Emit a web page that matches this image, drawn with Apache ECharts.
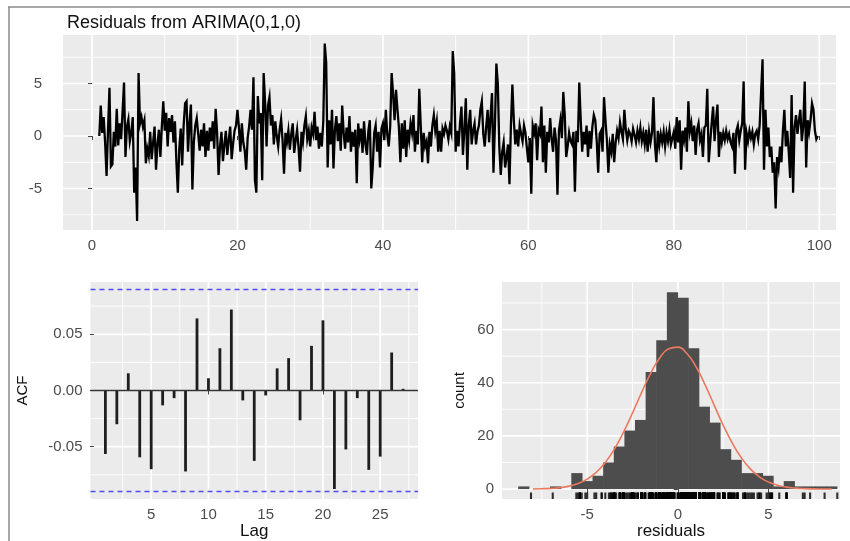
<!DOCTYPE html>
<html><head><meta charset="utf-8">
<script src="https://cdn.jsdelivr.net/npm/echarts@6/dist/echarts.min.js"></script>
<style>html,body{margin:0;padding:0;background:#fff}#c{width:850px;height:541px}</style>
</head><body><div id="c"></div>
<script>
// ---- data ----
const chartTitle = 'Residuals from ARIMA(0,1,0)';
const residStart = 1;      // first time index
const residFreq = 5;       // observations per time unit
const residuals = [
 0.0, 2.9, 0.3, 1.8, -0.6,   -3.8, 0.6, 4.6, -2.9, -2.7,   0.4, -1.0, 2.6, -0.9, 1.2,
 -0.3, 2.3, 5.1, -2.0, 0.9,  1.6, -0.5, 0.3, 1.8, -5.4,    -3.0, -8.1, 6.0, 1.2, 1.8,
 0.9, 1.5, -2.6, -1.2, -1.9, 0.4, -2.2, -0.6, 0.9, -3.2,   -0.8, 0.6, -2.0, 0.9, 3.3,
 0.5, 2.2, -1.0, 1.7, 0.4,   2.0, -0.6, 1.4, -2.4, -5.4,   -1.2, 0.7, -2.8, 1.0, 3.1,
 3.3, -1.5, 1.2, 3.0, -5.1,  -0.6, 1.0, 1.7, 0.2, -1.4,    0.6, -1.0, 1.2, -2.0, 0.5,
 -1.4, 0.8, -0.5, 1.4, -1.2, 2.6, 0.3, -3.7, -1.0, 0.4,    -2.4, -0.9, 0.5, -1.8, -0.4,
 0.9, -2.2, -0.7, 0.5, 1.0,  2.5, 0.8, -1.5, 1.2, -0.6,    -1.4, -3.2, -0.2, 0.9, 2.5,
 0.6, 5.6, -4.2, -5.4, 3.8,  1.2, 2.2, -4.2, 6.0, 3.2,     -1.0, 2.9, 3.7, 1.0, 2.0,
 -0.8, 1.4, 0.0, -1.0, 0.6,  1.6, -0.4, -3.6, 0.3, -0.6,   0.5, -1.3, 0.2, 1.2, -1.6,
 -0.4, 0.6, -1.1, -3.4, 0.4, -0.6, 1.0, 1.9, -0.3, 0.5,    -1.0, 0.8, 0.2, 2.3, -0.4,
 0.9, -1.2, 0.3, -1.0, 1.4,  8.8, 7.0, -3.0, 1.5, -0.8,    2.5, -3.1, 0.6, 1.9, -0.5,
 1.2, -1.4, 2.9, 0.3, -1.2,  0.8, -0.6, 1.9, -1.5, 0.4,    -1.0, 0.6, -4.5, 1.2, -0.3,
 0.7, -1.6, 1.4, -0.8, -1.8, 0.5, 1.5, -5.0, -3.0, 0.3,    1.0, -1.5, 0.4, -3.0, 0.7,
 1.2, -0.4, 2.5, 0.1, -1.0,  0.9, 6.0, 4.0, 1.5, 4.4,      2.5, 0.8, -2.5, 1.2, -1.2,
 1.5, -2.0, 0.6, -0.4, 1.2,  0.3, 2.0, -1.5, 0.5, -0.8,    4.5, 1.0, -2.5, 0.3, -1.0,
 -0.5, -2.6, 0.4, -1.0, 1.0, 2.0, 0.5, 1.4, -1.5, 0.5,     -1.5, 0.7, 0.2, 1.0, 0.5,
 -0.3, 0.9, 0.3, 8.1, 6.0,   -1.5, 0.5, -1.0, 1.2, 2.8,    -1.8, 0.6, 3.6, -3.2, 1.0,
 2.5, -0.8, 0.5, 1.2, -0.8,  0.4, 1.0, 2.5, 3.3, 0.2,      -1.0, 0.9, 2.5, -0.6, 1.9,
 4.1, -3.5, 1.0, 6.9, 5.0,   -1.0, -3.7, -1.5, -0.6, -3.0, -2.0, -0.8, -4.6, 1.0, 4.9,
 1.5, -0.8, 0.6, -1.0, 1.0,  0.2, -0.5, 1.0, 0.3, -1.2,    -2.5, -0.2, -5.5, 1.0, 0.3,
 1.2, -2.3, 0.6, 0.2, 2.8,   -2.5, 1.0, -3.5, 0.4, -0.6,   1.7, -0.3, -1.5, 0.8, -0.4,
 -5.6, 0.5, 1.5, -0.2, 4.2,  2.0, -2.0, -1.0, 0.3, -0.5,   -0.8, 0.4, -5.3, 0.5, -0.6,
 5.1, 1.5, -1.5, 0.4, -0.8,  1.0, -2.0, 0.5, -1.2, 0.9,    2.0, 1.5, -0.5, -3.5, 0.2,
 0.5, -1.5, 3.7, 1.5, -0.4,  -3.5, -0.8, -1.5, 0.2, -2.5,  -0.6, 0.5, -0.2, 1.3, 0.4,
 -0.3, 2.5, 0.6, -0.4, 0.5,  0.2, -0.5, 0.7, 0.1, -0.6,    0.5, -0.3, 0.8, -0.5, 0.3,
 -0.8, 0.6, -1.5, 0.4, -0.6, 0.3, 3.7, -0.8, -2.5, 0.5,    -0.9, 0.2, -0.6, 0.4, -1.0,
 0.3, -0.5, 0.6, -0.8, -0.2, 0.4, -1.2, 1.8, -0.6, 1.5,    -3.2, 0.5, -0.4, 0.8, -1.5,
 3.3, 0.4, 1.2, -0.5, 1.0,   -1.8, 0.6, 1.2, -0.4, 0.2,    -2.0, 0.8, 1.0, 4.5, -2.5,
 -2.5, 1.2, 2.8, -0.5, 1.5,  3.0, -2.0, 0.4, -0.6, 0.3,    -0.4, 0.5, -0.3, 0.2, -0.6,
 -1.0, 0.3, -3.6, 0.5, 1.0,  -0.4, 0.5, 1.2, 5.2, -3.2,    0.3, -0.5, 0.5, -0.2, 0.4,
 -0.8, 0.2, 0.5, -0.3, 1.0,  1.0, 7.3, -3.2, 2.5, -1.0,    0.8, -2.0, -1.0, -3.5, -2.5,
 -6.9, -2.0, -3.0, -1.0, -2.5, 0.5, 2.5, -1.0, 0.5, -1.5,  -4.0, 3.9, -5.4, 0.8, 2.0,
 0.2, 1.5, 2.5, -0.5, 1.0,   5.2, -3.0, 1.5, 0.4, 1.5,     3.1, 2.5, 0.5, -0.3, 0.0
];
const topXTicks = [0, 20, 40, 60, 80, 100];
const topXMinor = [10, 30, 50, 70, 90];
const topYTicks = [-5, 0, 5];
const topYMinor = [-7.5, -2.5, 2.5, 7.5];

const acfLags = [1,2,3,4,5,6,7,8,9,10,11,12,13,14,15,16,17,18,19,20,21,22,23,24,25,26,27];
const acfValues = [-0.0565,-0.030,0.0153,-0.0594,-0.070,-0.0132,-0.0068,-0.072,0.0641,0.0109,
  0.0376,0.072,-0.0088,-0.0626,-0.0044,0.0197,0.0288,-0.0265,0.0397,0.0624,
  -0.0876,-0.0524,-0.0068,-0.0706,-0.0588,0.0338,0.0015];
const acfCI = 0.0877;
const acfXTicks = [5, 10, 15, 20, 25];
const acfXMinor = [2.5, 7.5, 12.5, 17.5, 22.5, 27.5];
const acfYTicks = [-0.05, 0, 0.05];
const acfYMinor = [-0.075, -0.025, 0.025, 0.075];

const histBinStart = -8.79;
const histBinWidth = 0.586;
const histCounts = [1,0,0,1,0,6,3,5,10,16,22,26,44,56,74,72,53,31,25,15,11,6,6,5,1,3,1,1,1,1];
const normalX = [-8,-7.5,-7,-6.5,-6,-5.5,-5,-4.5,-4,-3.5,-3,-2.5,-2,-1.5,-1,-0.5,0,0.5,1,1.5,2,2.5,3,3.5,4,4.5,5,5.5,6,6.5,7,7.5,8,8.5];
const normalY = [0.05,0.12,0.26,0.55,1.1,2.09,3.72,6.26,10.0,15.0,21.3,28.6,36.3,43.5,49.3,52.8,53.4,51.0,46.1,39.3,31.7,24.1,17.4,11.8,7.59,4.61,2.64,1.43,0.73,0.35,0.16,0.07,0.03,0.01];
const histXTicks = [-5, 0, 5];
const histXMinor = [-7.5, -2.5, 2.5, 7.5];
const histYTicks = [0, 20, 40, 60];
const histYMinor = [10, 30, 50, 70];

// ---- styling ----
const FONT = '"Liberation Sans", Arial, Helvetica, sans-serif';
const tickColor = '#444444';
const labelColor = '#4d4d4d';

function gridLines(xi, xMajor, xMinor, yMajor, yMinor) {
  const data = [];
  xMinor.forEach(v => data.push([v, 0, 0]));
  yMinor.forEach(v => data.push([v, 0, 1]));
  xMajor.forEach(v => data.push([v, 1, 0]));
  yMajor.forEach(v => data.push([v, 1, 1]));
  return {
    type: 'custom', xAxisIndex: xi, yAxisIndex: xi, silent: true, z: 0, clip: true,
    data: data,
    renderItem: function (params, api) {
      const v = api.value(0), major = api.value(1), dir = api.value(2);
      const cs = params.coordSys;
      let shape;
      if (dir === 0) {
        const x = api.coord([v, 0])[0];
        shape = {x1: x, y1: cs.y, x2: x, y2: cs.y + cs.height};
      } else {
        const y = api.coord([0, v])[1];
        shape = {x1: cs.x, y1: y, x2: cs.x + cs.width, y2: y};
      }
      return {type: 'line', shape: shape, style: {stroke: '#ffffff', lineWidth: major ? 1.7 : 0.9}};
    }
  };
}

function valAxis(gi, min, max, ticks, opts) {
  return Object.assign({
    type: 'value', gridIndex: gi, min: min, max: max,
    axisLine: {show: false},
    axisTick: {show: true, customValues: ticks, length: 4, lineStyle: {color: tickColor, width: 1}},
    axisLabel: {show: true, customValues: ticks, color: labelColor, fontSize: 15, fontFamily: FONT, margin: 8},
    splitLine: {show: false}
  }, opts || {});
}

const histYBottom = -3.74;
const rugY = histYBottom + 3.25 / (217 / (77.9 - histYBottom));

const option = {
  animation: false,
  backgroundColor: '#ffffff',
  title: {text: chartTitle, left: 62, top: 9,
    textStyle: {fontSize: 18, fontWeight: 'normal', color: '#111', fontFamily: FONT}},
  grid: [
    {left: 63, top: 35, width: 773, height: 195, show: true, backgroundColor: '#ebebeb', borderWidth: 0},
    {left: 90.5, top: 282, width: 327.5, height: 217, show: true, backgroundColor: '#ebebeb', borderWidth: 0},
    {left: 502, top: 282, width: 338, height: 217, show: true, backgroundColor: '#ebebeb', borderWidth: 0}
  ],
  xAxis: [
    valAxis(0, -3.99, 102.3, topXTicks),
    valAxis(1, -0.3, 28.3, acfXTicks, {name: 'Lag', nameLocation: 'middle', nameGap: 13,
      nameTextStyle: {fontSize: 17, color: '#111', fontFamily: FONT}}),
    valAxis(2, -9.7, 8.95, histXTicks, {name: 'residuals', nameLocation: 'middle', nameGap: 21,
      nameTextStyle: {fontSize: 17, color: '#111', fontFamily: FONT}})
  ],
  yAxis: [
    valAxis(0, -8.95, 9.62, topYTicks, {offset: 13}),
    valAxis(1, -0.0965, 0.0965, acfYTicks, {name: 'ACF', nameLocation: 'middle', nameGap: 60, nameRotate: 90,
      nameTextStyle: {fontSize: 15, color: '#111', fontFamily: FONT},
      axisLabel: {show: true, customValues: acfYTicks, color: labelColor, fontSize: 15, fontFamily: FONT, margin: 8,
        formatter: v => Number(v).toFixed(2)}}),
    valAxis(2, histYBottom, 77.9, histYTicks, {name: 'count', nameLocation: 'middle', nameGap: 35, nameRotate: 90,
      nameTextStyle: {fontSize: 15, color: '#111', fontFamily: FONT}})
  ],
  graphic: [
    {type: 'line', shape: {x1: 8, y1: 7, x2: 850, y2: 7}, style: {stroke: '#8a8a8a', lineWidth: 1.5}, silent: true},
    {type: 'line', shape: {x1: 9, y1: 7, x2: 9, y2: 541}, style: {stroke: '#8a8a8a', lineWidth: 1.5}, silent: true}
  ],
  series: [
    gridLines(0, topXTicks, topXMinor, topYTicks, topYMinor),
    gridLines(1, acfXTicks, acfXMinor, acfYTicks, acfYMinor),
    gridLines(2, histXTicks, histXMinor, histYTicks, histYMinor),
    {
      type: 'line', xAxisIndex: 0, yAxisIndex: 0, z: 3,
      data: residuals.map((v, i) => [residStart + i / residFreq, v]),
      showSymbol: false, symbol: 'none',
      lineStyle: {color: '#000', width: 2.3, join: 'miter'}
    },
    {
      type: 'bar', xAxisIndex: 1, yAxisIndex: 1, z: 3, barWidth: 2.8,
      data: acfLags.map((l, i) => [l, acfValues[i]]),
      itemStyle: {color: '#1e1e1e'},
      markLine: {
        silent: true, symbol: 'none', label: {show: false},
        data: [
          {yAxis: 0, lineStyle: {color: '#333', type: 'solid', width: 1.3}},
          {yAxis: acfCI, lineStyle: {color: '#4b4bf2', type: [5, 4], width: 1.3}},
          {yAxis: -acfCI, lineStyle: {color: '#4b4bf2', type: [5, 4], width: 1.3}}
        ]
      }
    },
    {
      type: 'custom', xAxisIndex: 2, yAxisIndex: 2, z: 3,
      data: histCounts.map((c, i) => [histBinStart + i * histBinWidth, c]),
      renderItem: function (params, api) {
        const x0 = api.value(0), c = api.value(1);
        if (!c) return null;
        const p1 = api.coord([x0, c]);
        const p2 = api.coord([x0 + histBinWidth, 0]);
        return {type: 'rect', shape: {x: p1[0] - 0.3, y: p1[1], width: p2[0] - p1[0] + 0.6, height: p2[1] - p1[1]},
          style: {fill: '#4d4d4d'}};
      }
    },
    {
      type: 'line', xAxisIndex: 2, yAxisIndex: 2, z: 4, smooth: true,
      data: normalX.map((x, i) => [x, normalY[i]]),
      showSymbol: false, symbol: 'none',
      lineStyle: {color: '#ea7a5f', width: 1.6}
    },
    {
      type: 'scatter', xAxisIndex: 2, yAxisIndex: 2, z: 4,
      data: residuals.map(v => [v, rugY]),
      symbol: 'rect', symbolSize: [2.1, 6.5],
      itemStyle: {color: '#000'}
    }
  ]
};

const chart = echarts.init(document.getElementById('c'), null, {renderer: 'canvas'});
chart.setOption(option);
</script>
</body></html>
